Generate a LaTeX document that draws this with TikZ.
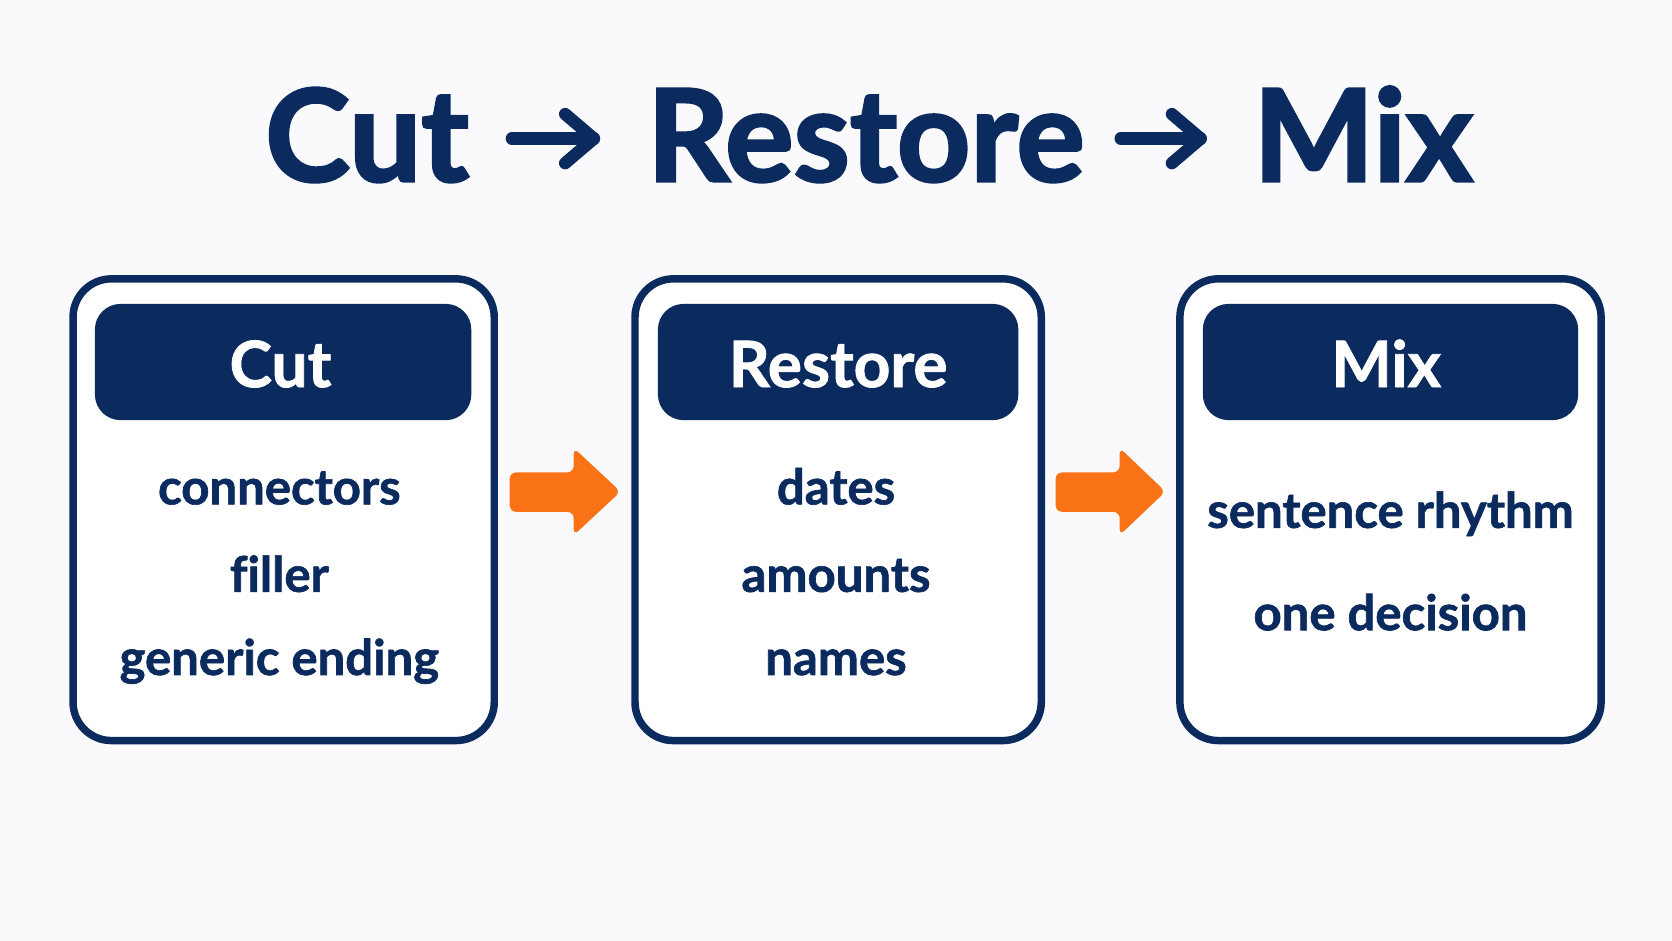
\documentclass[tikz,border=0pt]{standalone}
\usepackage{fontspec}
\setmainfont{Lato}[Ligatures=NoCommon,BoldFeatures={FakeBold=1.3}]
\newfontfamily\titlefont{Lato}[Ligatures=NoCommon,BoldFeatures={FakeBold=2.2}]
\usetikzlibrary{calc}
\definecolor{navy}{HTML}{0B2B5F}
\definecolor{orangeA}{HTML}{F97316}
\definecolor{bgc}{HTML}{FAFAFC}
\begin{document}
\begin{tikzpicture}[x=0.5pt,y=-0.5pt,
 card/.style={draw=navy,line width=3.5pt,fill=white,rounded corners=18pt,minimum width=#1,minimum height=216.5pt,inner sep=0pt},
 head/.style={fill=navy,rounded corners=12pt,minimum width=#1,minimum height=54.5pt,inner sep=0pt},
 headtxt/.style={text=white,font=\bfseries\fontsize{30}{36}\selectfont,anchor=base,inner sep=0pt},
 item/.style={text=navy,font=\bfseries\fontsize{23}{28}\selectfont,anchor=base,inner sep=0pt},
 ttl/.style={text=navy,font=\titlefont\bfseries\fontsize{60}{72}\selectfont,inner sep=0pt},
 ttlarrow/.style={draw=navy,line width=5.8pt,line cap=round,line join=round},
 flow/.style={fill=orangeA,rounded corners=3pt}]
\fill[bgc] (0,0) rectangle (1568,882);
\useasboundingbox (0,0) rectangle (1568,882);

% title
\node[ttl,anchor=base] (t2) at (812,170) {Restore};
\node[ttl,anchor=base east] (t1) at (440,170) {Cut};
\node[ttl,anchor=base west] (t3) at (1175,170) {Mix};
\coordinate (a1s) at (480,130); \coordinate (a1e) at (557,130);
\coordinate (a2s) at (1051,130); \coordinate (a2e) at (1126,130);
\draw[ttlarrow] (a1s) -- (a1e);
\draw[ttlarrow] ($(a1e)+(-27,-23)$) -- (a1e) -- ($(a1e)+(-27,23)$);
\draw[ttlarrow] (a2s) -- (a2e);
\draw[ttlarrow] ($(a2e)+(-27,-23)$) -- (a2e) -- ($(a2e)+(-27,23)$);

% cards
\node[card=197.5pt] (cut) at (266,478) {};
\node[card=190.5pt] (restore) at (786,478) {};
\node[card=197.5pt] (mix) at (1304,478) {};

\node[head=176.5pt] (cuth) at (265.5,339.5) {};
\node[head=169pt] (restoreh) at (786,339.5) {};
\node[head=176pt] (mixh) at (1304,339.5) {};

\node[headtxt] (cutt) at (263,363) {Cut};
\node[headtxt] (restoret) at (786,363) {Restore};
\node[headtxt] (mixt) at (1300,363) {Mix};

\node[item] (c1) at (262,473) {connectors};
\node[item] (c2) at (262,555) {filler};
\node[item] (c3) at (262,633) {generic ending};

\node[item] (r1) at (784,473) {dates};
\node[item] (r2) at (784,555) {amounts};
\node[item] (r3) at (784,633) {names};

\node[item] (m1) at (1304,495) {sentence rhythm};
\node[item] (m2) at (1304,591) {one decision};

% flow arrows
\fill[flow] ($(cut.east)+(11,-35)$) -- ($(cut.east)+(71,-35)$) -- ($(cut.east)+(71,-58)$)
  -- ($(restore.west)+(-10,-17)$) -- ($(cut.east)+(71,24)$) -- ($(cut.east)+(71,2)$)
  -- ($(cut.east)+(11,2)$) -- cycle;
\fill[flow] ($(restore.east)+(10,-35)$) -- ($(restore.east)+(70,-35)$) -- ($(restore.east)+(70,-58)$)
  -- ($(mix.west)+(-10,-17)$) -- ($(restore.east)+(70,24)$) -- ($(restore.east)+(70,2)$)
  -- ($(restore.east)+(10,2)$) -- cycle;
\end{tikzpicture}
\end{document}
